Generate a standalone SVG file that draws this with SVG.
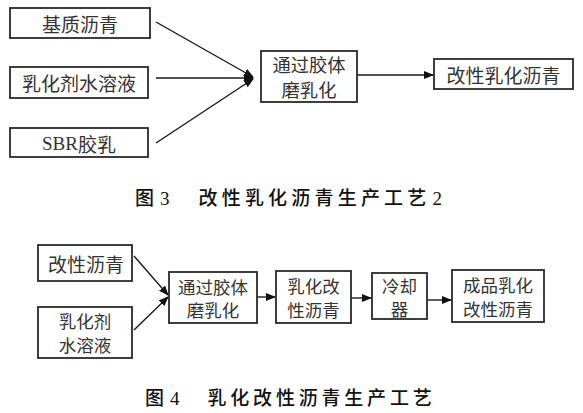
<svg xmlns="http://www.w3.org/2000/svg" width="583" height="413" viewBox="0 0 583 413">
<style>
rect.b{fill:#fff;stroke:#2a2a2a;stroke-width:1.8}
text{font-family:"Noto Sans CJK SC","Liberation Serif",sans-serif;fill:#333;font-size:19px;text-anchor:middle;dominant-baseline:central}
text.s{font-size:17.5px}
text.m{font-size:18.3px}
.ln{stroke:#1a1a1a;stroke-width:1.4;fill:none;marker-end:url(#ah)}
.cap{font-weight:500;fill:#111;text-anchor:start;dominant-baseline:alphabetic}
.num{font-family:"Liberation Serif",serif;font-weight:normal}
</style>
<defs>
<marker id="ah" markerWidth="10" markerHeight="8" refX="9" refY="4" orient="auto" markerUnits="userSpaceOnUse">
<path d="M0,0 L10,4 L0,8 Z" fill="#111"/>
</marker>
</defs>
<rect width="583" height="413" fill="#fff"/>

<g id="connectors">
<line class="ln" x1="156" y1="22" x2="253" y2="77"/>
<line class="ln" x1="156" y1="78" x2="253" y2="78"/>
<line class="ln" x1="156" y1="143" x2="253" y2="79"/>
<line class="ln" x1="357" y1="75" x2="433" y2="75"/>
<line class="ln" x1="134" y1="256" x2="168" y2="295"/>
<line class="ln" x1="134" y1="330" x2="168" y2="297"/>
<line class="ln" x1="257" y1="297" x2="275" y2="297"/>
<line class="ln" x1="351" y1="298" x2="371" y2="298"/>
<line class="ln" x1="427" y1="300" x2="451" y2="300"/>
</g>

<g id="n1"><rect class="b" x="10" y="8" width="140" height="30"/><text x="80" y="23">基质沥青</text></g>
<g id="n2"><rect class="b" x="10" y="67" width="138" height="31"/><text x="79" y="82">乳化剂水溶液</text></g>
<g id="n3"><rect class="b" x="10" y="128" width="138" height="29"/><text x="79" y="143"><tspan font-family="Liberation Serif">SBR</tspan>胶乳</text></g>
<g id="n4"><rect class="b" x="261" y="51" width="96" height="51"/><text class="m" x="309" y="63.5">通过胶体</text><text class="m" x="309" y="89">磨乳化</text></g>
<g id="n5"><rect class="b" x="434" y="59" width="139" height="30"/><text x="503.5" y="74">改性乳化沥青</text></g>

<text class="cap" x="135" y="205">图<tspan class="num" dx="6">3</tspan><tspan dx="29" letter-spacing="4.2">改性乳化沥青生产工艺</tspan><tspan class="num" dx="2">2</tspan></text>

<g id="m1"><rect class="b" x="38" y="245" width="94" height="36"/><text x="86" y="263">改性沥青</text></g>
<g id="m2"><rect class="b" x="38" y="307" width="94" height="51"/><text class="s" x="85" y="320.5">乳化剂</text><text class="s" x="85" y="344">水溶液</text></g>
<g id="m3"><rect class="b" x="169" y="272" width="88" height="51"/><text class="s" x="213" y="286">通过胶体</text><text class="s" x="213" y="309.5">磨乳化</text></g>
<g id="m4"><rect class="b" x="276" y="271" width="75" height="52"/><text class="s" x="313.5" y="285.5">乳化改</text><text class="s" x="313.5" y="309">性沥青</text></g>
<g id="m5"><rect class="b" x="372" y="273" width="55" height="46"/><text class="s" x="399.5" y="285">冷却</text><text class="s" x="399.5" y="308.5">器</text></g>
<g id="m6"><rect class="b" x="452" y="270" width="92" height="52"/><text class="s" x="498" y="284.5">成品乳化</text><text class="s" x="498" y="308">改性沥青</text></g>

<text class="cap" x="145" y="405">图<tspan class="num" dx="6">4</tspan><tspan dx="28" letter-spacing="3.8">乳化改性沥青生产工艺</tspan></text>
</svg>
